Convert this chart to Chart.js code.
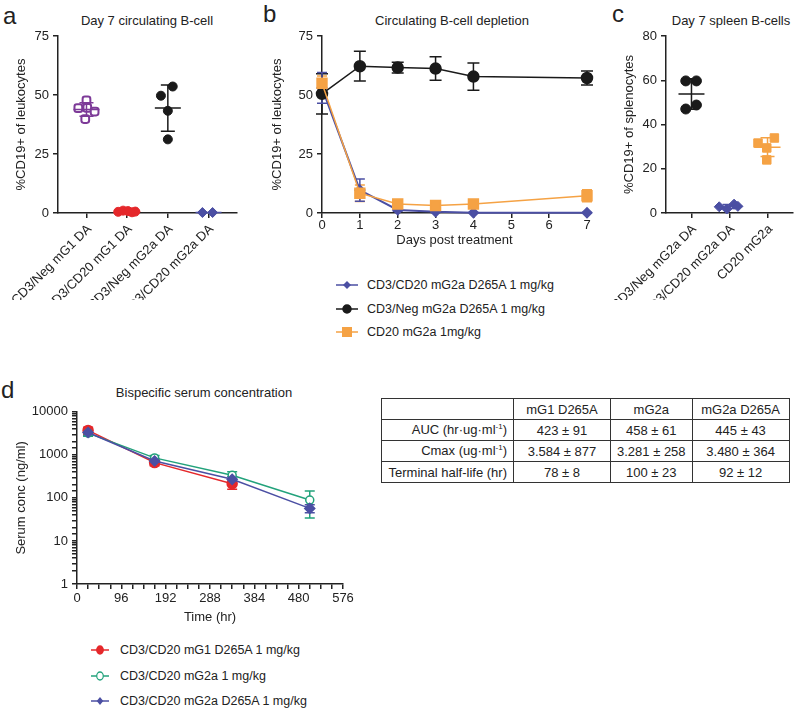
<!DOCTYPE html>
<html>
<head>
<meta charset="utf-8">
<script src="https://cdn.jsdelivr.net/npm/chart.js@4.4.1/dist/chart.umd.min.js"></script>
<style>
  body { margin: 0; background: #fff; font-family: 'Liberation Sans', Arial, sans-serif; color: #222; }
  #fig { position: relative; width: 800px; height: 709px; overflow: hidden; }
  canvas { position: absolute; }
  .letter { position: absolute; font-size: 24px; line-height: 24px; }
  .ttl { position: absolute; font-size: 13px; line-height: 16px; white-space: nowrap; transform: translateX(-50%); }
  .legend { position: absolute; font-size: 12.5px; }
  .legend .row { position: absolute; left: 0; height: 20px; display: flex; align-items: center; white-space: nowrap; }
  .legend svg { display: block; }
  #tbl { position: absolute; left: 381px; top: 398px; border-collapse: collapse; table-layout: fixed; font-size: 13px; }
  #tbl td { border: 1.5px solid #333; height: 20px; padding: 0 6px; text-align: center; white-space: nowrap; overflow: hidden; }
  #tbl td:first-child { text-align: right; }
  #tbl sup { font-size: 8px; }
</style>
</head>
<body>
<div id="fig">
  <div class="letter" style="left:3px;top:4px">a</div>
  <div class="letter" style="left:263px;top:2px">b</div>
  <div class="letter" style="left:612px;top:2px">c</div>
  <div class="letter" style="left:1px;top:378px">d</div>

  <div class="ttl" style="left:147px;top:13px">Day 7 circulating B-cell</div>
  <div class="ttl" style="left:452px;top:13px">Circulating B-cell depletion</div>
  <div class="ttl" style="left:731px;top:13px">Day 7 spleen B-cells</div>
  <div class="ttl" style="left:204px;top:385px">Bispecific serum concentration</div>

  <canvas id="chartA" width="250" height="300" style="left:0;top:0"></canvas>
  <canvas id="chartB" width="338" height="252" style="left:262px;top:0"></canvas>
  <canvas id="chartC" width="200" height="300" style="left:600px;top:0"></canvas>
  <canvas id="chartD" width="360" height="229" style="left:0;top:400px"></canvas>

  <div class="legend" id="legendB" style="left:336px;top:275px"></div>
  <div class="legend" id="legendD" style="left:91px;top:640px"></div>

  <table id="tbl"></table>
</div>

<script>
// ---- panel a: day 7 circulating B-cells (% CD19+ of leukocytes)
const aCats = ['CD3/Neg mG1 DA', 'CD3/CD20 mG1 DA', 'CD3/Neg mG2a DA', 'CD3/CD20 mG2a DA'];
const aNegMG1 = [47.7, 44.4, 44.5, 43.0, 39.8];
const aNegMG1Jit = [0, -0.2, 0.02, 0.2, -0.03];
const aCD20MG1 = [0.5, 1.0, 0.8, 0.3, 0.6];
const aCD20MG1Jit = [-0.22, -0.1, 0.02, 0.12, 0.2];
const aNegMG2a = [53.6, 49.7, 43.3, 31.2];
const aNegMG2aJit = [0.12, -0.17, 0, 0];
const aCD20MG2a = [0.2, 0.2];
const aCD20MG2aJit = [-0.15, 0.1];

// ---- panel b: circulating B-cell depletion over time
const bDays = [0, 1, 2, 3, 4, 7];
const bCD3CD20 = [53, 9.7, 1.3, 0.5, 0.1, 0.1];
const bCD3CD20Sd = [6.5, 4.7, 0.6, 0.3, 0.1, 0.1];
const bCD3Neg = [50.5, 62.2, 61.6, 61.2, 57.8, 57.2];
const bCD3NegSd = [8.5, 6.3, 2.3, 5, 5.8, 3];
const bCD20 = [55, 8.4, 3.8, 3.2, 3.8, 7.3];
const bCD20Sd = [3, 3.5, 0.8, 0.8, 1, 2.5];
const bLabels = ['CD3/CD20 mG2a D265A 1 mg/kg', 'CD3/Neg mG2a D265A 1 mg/kg', 'CD20 mG2a 1mg/kg'];

// ---- panel c: day 7 spleen B-cells (% CD19+ of splenocytes)
const cCats = ['CD3/Neg mG2a DA', 'CD3/CD20 mG2a DA', 'CD20 mG2a'];
const cNeg = [59.7, 59.7, 47.0, 48.8];
const cNegJit = [-0.15, 0.13, -0.15, 0.13];
const cCD3CD20 = [2.8, 1.8, 4.0, 3.0];
const cCD3CD20Jit = [-0.27, -0.07, 0.12, 0.22];
const cCD20 = [31.6, 33.9, 29.4, 24.0];
const cCD20Jit = [-0.25, 0.18, -0.02, -0.02];

// ---- panel d: bispecific serum concentration (ng/ml)
const dHours = [24, 168, 336, 504];
const dMG1 = [3700, 660, 213];
const dMG1Sd = [700, 100, 55];
const dMG2a = [3200, 850, 335, 89];
const dMG2aSd = [500, 120, 70, 55];
const dMG2aDA = [3300, 720, 270, 57];
const dMG2aDASd = [500, 100, 40, 12];
const dLabels = ['CD3/CD20 mG1 D265A 1 mg/kg', 'CD3/CD20 mG2a 1 mg/kg', 'CD3/CD20 mG2a D265A 1 mg/kg'];
const dTicksLabelled = [0, 96, 192, 288, 384, 480, 576];

// ---- PK table
const tblHead = ['', 'mG1 D265A', 'mG2a', 'mG2a D265A'];
const tblAUC = ['AUC (hr·ug·ml<sup>-1</sup>)', '423 ± 91', '458 ± 61', '445 ± 43'];
const tblCmax = ['Cmax (ug·ml<sup>-1</sup>)', '3.584 ± 877', '3.281 ± 258', '3.480 ± 364'];
const tblHalf = ['Terminal half-life (hr)', '78 ± 8', '100 ± 23', '92 ± 12'];

const INK = '#222';
const PURPLE = '#7d3a98';
const RED = '#e5282b';
const BLACK = '#1a1a1a';
const BLUE = '#4b4fa3';
const ORANGE = '#f5a244';
const GREEN = '#22a27b';
const FONT = "'Liberation Sans', Arial, sans-serif";

Chart.defaults.font.family = FONT;
Chart.defaults.font.size = 13;
Chart.defaults.color = INK;
Chart.defaults.animation = false;

// error bars: per point (line charts) and mean +/- SD per group (dot plots)
const errorBars = {
  id: 'errorBars',
  beforeDatasetsDraw(chart) {
    const ctx = chart.ctx, ys = chart.scales.y;
    chart.data.datasets.forEach((ds, i) => {
      if (!ds.errors) return;
      const meta = chart.getDatasetMeta(i);
      ctx.save();
      ctx.strokeStyle = ds.borderColor;
      ctx.lineWidth = 1.5;
      meta.data.forEach((pt, j) => {
        const v = ds.data[j].y, e = ds.errors[j];
        const top = ys.getPixelForValue(v + e);
        const bot = ys.getPixelForValue(Math.max(v - e, ys.min));
        const w = ds.capWidth;
        ctx.beginPath();
        ctx.moveTo(pt.x, top); ctx.lineTo(pt.x, bot);
        ctx.moveTo(pt.x - w, top); ctx.lineTo(pt.x + w, top);
        ctx.moveTo(pt.x - w, bot); ctx.lineTo(pt.x + w, bot);
        ctx.stroke();
      });
      ctx.restore();
    });
  },
  afterDatasetsDraw(chart) {
    const ctx = chart.ctx, xs = chart.scales.x, ys = chart.scales.y;
    chart.data.datasets.forEach(ds => {
      if (ds.groupX === undefined) return;
      const vals = ds.data.map(p => p.y);
      const mean = vals.reduce((s, v) => s + v, 0) / vals.length;
      const sd = Math.sqrt(vals.reduce((s, v) => s + (v - mean) * (v - mean), 0) / (vals.length - 1));
      const x = xs.getPixelForValue(ds.groupX);
      const ym = ys.getPixelForValue(mean);
      const yt = ys.getPixelForValue(mean + sd);
      const yb = ys.getPixelForValue(Math.max(mean - sd, 0));
      ctx.save();
      ctx.strokeStyle = ds.borderColor;
      ctx.lineWidth = 1.5;
      ctx.beginPath();
      ctx.moveTo(x - 13, ym); ctx.lineTo(x + 13, ym);
      ctx.moveTo(x, yt); ctx.lineTo(x, yb);
      ctx.moveTo(x - 7, yt); ctx.lineTo(x + 7, yt);
      ctx.moveTo(x - 7, yb); ctx.lineTo(x + 7, yb);
      ctx.stroke();
      ctx.restore();
    });
  }
};

// category names under the dot plots, slanted 45 degrees, ending at the tick
const slantLabels = {
  id: 'slantLabels',
  afterDraw(chart) {
    const xs = chart.scales.x, ctx = chart.ctx, cats = chart.config.options.catNames;
    if (!cats) return;
    ctx.save();
    ctx.font = '13px ' + FONT;
    ctx.fillStyle = INK;
    ctx.textAlign = 'right';
    ctx.textBaseline = 'middle';
    xs.ticks.forEach(t => {
      const x = xs.getPixelForValue(t.value);
      ctx.save();
      ctx.translate(x + 3, xs.top + 14);
      ctx.rotate(-Math.PI / 4);
      ctx.fillText(cats[t.value - 1], 0, 0);
      ctx.restore();
    });
    ctx.restore();
  }
};

function axisStyle() {
  return {
    grid: { drawOnChartArea: false, drawTicks: true, tickLength: 5, color: INK, lineWidth: 1.5 },
    border: { display: true, color: INK, width: 1.5 }
  };
}

function dotChart(id, cats, groups, xMin, xMax, yMax, yStep, yTitle, yWidth, titlePad) {
  return new Chart(document.getElementById(id), {
    type: 'scatter',
    data: {
      datasets: groups.map((g, i) => ({
        data: g.vals.map((v, j) => ({ x: i + 1 + g.jit[j], y: v })),
        groupX: i + 1,
        pointStyle: g.style,
        pointRadius: g.r,
        pointHoverRadius: g.r,
        backgroundColor: g.fill,
        borderColor: g.color,
        borderWidth: g.bw,
        clip: false
      }))
    },
    options: {
      responsive: false,
      catNames: cats,
      layout: { padding: { top: 36, right: id === 'chartA' ? 13 : 0, left: 0, bottom: 0 } },
      plugins: { legend: { display: false }, tooltip: { enabled: false } },
      scales: {
        x: {
          type: 'linear', min: xMin, max: xMax,
          afterBuildTicks: s => { s.ticks = cats.map((c, i) => ({ value: i + 1 })); },
          afterFit: s => { s.height = 87; },
          ticks: { display: false },
          ...axisStyle()
        },
        y: {
          min: 0, max: yMax,
          afterFit: s => { s.width = yWidth; },
          ticks: { stepSize: yStep, padding: 4 },
          title: { display: true, text: yTitle, padding: { top: titlePad, bottom: 0 } },
          ...axisStyle()
        }
      }
    },
    plugins: [errorBars, slantLabels]
  });
}

dotChart('chartA', aCats, [
  { vals: aNegMG1, jit: aNegMG1Jit, style: 'rectRounded', r: 4.5, fill: '#fff', color: PURPLE, bw: 2 },
  { vals: aCD20MG1, jit: aCD20MG1Jit, style: 'circle', r: 4.5, fill: RED, color: RED, bw: 1 },
  { vals: aNegMG2a, jit: aNegMG2aJit, style: 'circle', r: 4.5, fill: BLACK, color: BLACK, bw: 1 },
  { vals: aCD20MG2a, jit: aCD20MG2aJit, style: 'rectRot', r: 5, fill: BLUE, color: BLUE, bw: 1 }
], 0.3, 4.7, 75, 25, '%CD19+ of leukocytes', 58, 14);

dotChart('chartC', cCats, [
  { vals: cNeg, jit: cNegJit, style: 'circle', r: 5, fill: BLACK, color: BLACK, bw: 1 },
  { vals: cCD3CD20, jit: cCD3CD20Jit, style: 'rectRot', r: 5, fill: BLUE, color: BLUE, bw: 1 },
  { vals: cCD20, jit: cCD20Jit, style: 'rect', r: 6, fill: ORANGE, color: ORANGE, bw: 1 }
], 0.33, 3.67, 80, 20, '%CD19+ of splenocytes', 66, 22);

function series(xs, ys) {
  return ys.map((v, i) => ({ x: xs[i], y: v }));
}

// ---- panel b
new Chart(document.getElementById('chartB'), {
  type: 'line',
  data: {
    datasets: [
      { label: bLabels[2], data: series(bDays, bCD20), errors: bCD20Sd, capWidth: 5,
        borderColor: ORANGE, backgroundColor: ORANGE, borderWidth: 1.5,
        pointStyle: 'rect', pointRadius: 7, pointHoverRadius: 7, clip: false },
      { label: bLabels[1], data: series(bDays, bCD3Neg), errors: bCD3NegSd, capWidth: 6,
        borderColor: BLACK, backgroundColor: BLACK, borderWidth: 1.5,
        pointStyle: 'circle', pointRadius: 5.5, pointHoverRadius: 5.5, clip: false },
      { label: bLabels[0], data: series(bDays, bCD3CD20), errors: bCD3CD20Sd, capWidth: 5,
        borderColor: BLUE, backgroundColor: BLUE, borderWidth: 2,
        pointStyle: 'rectRot', pointRadius: 4.5, pointHoverRadius: 4.5, clip: false }
    ]
  },
  options: {
    responsive: false,
    layout: { padding: { top: 36, right: 13, left: 0, bottom: 0 } },
    plugins: { legend: { display: false }, tooltip: { enabled: false } },
    scales: {
      x: {
        type: 'linear', min: 0, max: 7,
        afterFit: s => { s.height = 39; },
        ticks: { stepSize: 1, padding: 0, maxRotation: 0 },
        title: { display: true, text: 'Days post treatment' },
        ...axisStyle()
      },
      y: {
        min: 0, max: 75,
        afterFit: s => { s.width = 60; },
        ticks: { stepSize: 25, padding: 4 },
        title: { display: true, text: '%CD19+ of leukocytes', padding: { top: 8, bottom: 0 } },
        ...axisStyle()
      }
    }
  },
  plugins: [errorBars]
});

// ---- panel d
new Chart(document.getElementById('chartD'), {
  type: 'line',
  data: {
    datasets: [
      { label: dLabels[2], data: series(dHours, dMG2aDA), errors: dMG2aDASd, capWidth: 5,
        borderColor: BLUE, backgroundColor: BLUE, borderWidth: 1.5,
        pointStyle: 'rectRot', pointRadius: 5, pointHoverRadius: 5, clip: false },
      { label: dLabels[1], data: series(dHours, dMG2a), errors: dMG2aSd, capWidth: 5,
        borderColor: GREEN, backgroundColor: '#fff', borderWidth: 1.5,
        pointStyle: 'circle', pointRadius: 4, pointHoverRadius: 4, pointBorderWidth: 1.5, clip: false },
      { label: dLabels[0], data: series(dHours, dMG1), errors: dMG1Sd, capWidth: 5,
        borderColor: RED, backgroundColor: RED, borderWidth: 1.5,
        pointStyle: 'circle', pointRadius: 5, pointHoverRadius: 5, clip: false }
    ]
  },
  options: {
    responsive: false,
    layout: { padding: { top: 8, right: 17, left: 0, bottom: 0 } },
    plugins: { legend: { display: false }, tooltip: { enabled: false } },
    scales: {
      x: {
        type: 'linear', min: 0, max: 576,
        afterFit: s => { s.height = 45; },
        ticks: { stepSize: 24, padding: 2, maxRotation: 0, autoSkip: false,
                 callback: v => dTicksLabelled.includes(v) ? v : '' },
        title: { display: true, text: 'Time (hr)' },
        ...axisStyle()
      },
      y: {
        type: 'logarithmic', min: 1, max: 10000,
        afterFit: s => { s.width = 77; },
        ticks: { padding: 4, autoSkip: false,
                 callback: v => /^10*$/.test(String(v)) ? String(v) : '' },
        title: { display: true, text: 'Serum conc (ng/ml)', padding: { top: 14, bottom: 0 } },
        ...axisStyle()
      }
    }
  },
  plugins: [errorBars]
});

// ---- legends (html, below panels b and d)
function marker(style, color, fill) {
  if (style === 'circle') return `<circle cx="11" cy="7" r="4" fill="${fill}" stroke="${color}" stroke-width="1.5"/>`;
  if (style === 'rect') return `<rect x="6" y="2" width="10" height="10" fill="${fill}"/>`;
  return `<polygon points="11,3 15,7 11,11 7,7" fill="${fill}"/>`;
}
function buildLegend(id, items, rowGap, svgW, textGap) {
  const el = document.getElementById(id);
  el.innerHTML = items.map((it, i) =>
    `<div class="row" style="top:${i * rowGap}px">` +
    `<svg width="${svgW}" height="14" viewBox="0 0 22 14" preserveAspectRatio="none"><line x1="0" y1="7" x2="22" y2="7" stroke="${it.color}" stroke-width="1.5"/>${marker(it.style, it.color, it.fill)}</svg>` +
    `<span style="margin-left:${textGap}px">${it.label}</span></div>`).join('');
}
buildLegend('legendB', [
  { label: bLabels[0], style: 'diamond', color: BLUE, fill: BLUE },
  { label: bLabels[1], style: 'circle', color: BLACK, fill: BLACK },
  { label: bLabels[2], style: 'rect', color: ORANGE, fill: ORANGE }
], 23.5, 22, 9);
buildLegend('legendD', [
  { label: dLabels[0], style: 'circle', color: RED, fill: RED },
  { label: dLabels[1], style: 'circle', color: GREEN, fill: '#fff' },
  { label: dLabels[2], style: 'diamond', color: BLUE, fill: BLUE }
], 25.5, 18, 11);

// ---- table
const colW = [132, 97, 78, 97];
const tbl = document.getElementById('tbl');
tbl.innerHTML = '<colgroup>' + colW.map(w => `<col style="width:${w}px">`).join('') + '</colgroup>' +
  [tblHead, tblAUC, tblCmax, tblHalf].map(r => '<tr>' + r.map(c => `<td>${c}</td>`).join('') + '</tr>').join('');
</script>
</body>
</html>
